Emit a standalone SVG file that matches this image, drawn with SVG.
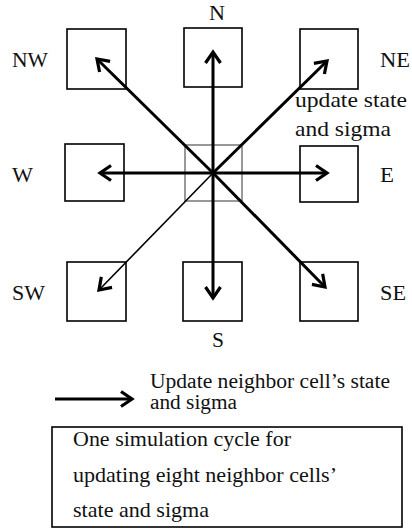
<svg xmlns="http://www.w3.org/2000/svg" width="412" height="529" viewBox="0 0 412 529">
  <style>
    .cell { fill: none; stroke: #000; stroke-width: 1.6; }
    .self { fill: none; stroke: #555; stroke-width: 1.2; }
    text { fill: #111; }
    .lbl { font-size: 22px; }
    .leg { font-size: 20px; }
    .arr { stroke: #000; stroke-width: 3; fill: none; marker-end: url(#head); }
    .arr.thin { stroke-width: 1.6; }
  </style>
  <defs>
    <marker id="head" markerUnits="userSpaceOnUse" viewBox="-14 -9 16 18" refX="0" refY="0" markerWidth="16" markerHeight="18" orient="auto" overflow="visible">
      <path d="M-11,-7.5 L0,0 L-11,7.5" fill="none" stroke="#000" stroke-width="3.2" stroke-linejoin="miter"/>
    </marker>
  </defs>

  <g font-family="Liberation Serif, Times New Roman, serif">
  <!-- neighbour cells -->
  <g id="cell-nw"><rect class="cell" x="67" y="29" width="59" height="60"/><text class="lbl" x="12" y="67" textLength="36" lengthAdjust="spacingAndGlyphs">NW</text></g>
  <g id="cell-n"><rect class="cell" x="184" y="28" width="58" height="59"/><text class="lbl" x="209" y="20" textLength="16" lengthAdjust="spacingAndGlyphs">N</text></g>
  <g id="cell-ne"><rect class="cell" x="300" y="29" width="58" height="60"/><text class="lbl" x="380" y="67" textLength="30" lengthAdjust="spacingAndGlyphs">NE</text></g>
  <g id="cell-w"><rect class="cell" x="65" y="144" width="59" height="57"/><text class="lbl" x="12" y="182" textLength="21" lengthAdjust="spacingAndGlyphs">W</text></g>
  <g id="cell-center"><rect class="self" x="185" y="145" width="57" height="56"/></g>
  <g id="cell-e"><rect class="cell" x="300" y="146" width="58" height="56"/><text class="lbl" x="380" y="182" textLength="14" lengthAdjust="spacingAndGlyphs">E</text></g>
  <g id="cell-sw"><rect class="cell" x="67" y="262" width="59" height="59"/><text class="lbl" x="12" y="300" textLength="33" lengthAdjust="spacingAndGlyphs">SW</text></g>
  <g id="cell-s"><rect class="cell" x="183" y="262" width="59" height="59"/><text class="lbl" x="212" y="347" textLength="12" lengthAdjust="spacingAndGlyphs">S</text></g>
  <g id="cell-se"><rect class="cell" x="300" y="262" width="58" height="59"/><text class="lbl" x="380" y="300" textLength="26" lengthAdjust="spacingAndGlyphs">SE</text></g>

  <!-- updates sent from the centre cell -->
  <g id="connectors">
    <line class="arr" x1="213" y1="173" x2="97" y2="59"/>
    <line class="arr" x1="213" y1="173" x2="213" y2="52"/>
    <line class="arr" x1="213" y1="173" x2="327" y2="61"/>
    <line class="arr" x1="213" y1="173" x2="100" y2="173"/>
    <line class="arr" x1="213" y1="173" x2="327" y2="173"/>
    <line class="arr thin" x1="213" y1="173" x2="99" y2="290"/>
    <line class="arr" x1="213" y1="173" x2="213" y2="298"/>
    <line class="arr" x1="213" y1="173" x2="325" y2="287"/>
  </g>

  <g id="note-ne">
    <text class="lbl" x="295" y="107" textLength="112" lengthAdjust="spacingAndGlyphs">update state</text>
    <text class="lbl" x="295" y="136" textLength="96" lengthAdjust="spacingAndGlyphs">and sigma</text>
  </g>

  <!-- legend -->
  <g id="legend">
    <line class="arr" x1="55" y1="399" x2="132" y2="399"/>
    <text class="leg" x="150" y="388" textLength="240" lengthAdjust="spacingAndGlyphs">Update neighbor cell’s state</text>
    <text class="leg" x="150" y="409" textLength="87" lengthAdjust="spacingAndGlyphs">and sigma</text>
  </g>

  <g id="caption">
    <rect class="cell" x="52" y="427" width="350" height="100"/>
    <text class="lbl" x="73" y="446" textLength="218" lengthAdjust="spacingAndGlyphs">One simulation cycle for</text>
    <text class="lbl" x="73" y="481.5" textLength="264" lengthAdjust="spacingAndGlyphs">updating eight neighbor cells’</text>
    <text class="lbl" x="73" y="517" textLength="136" lengthAdjust="spacingAndGlyphs">state and sigma</text>
  </g>
  </g>
</svg>
